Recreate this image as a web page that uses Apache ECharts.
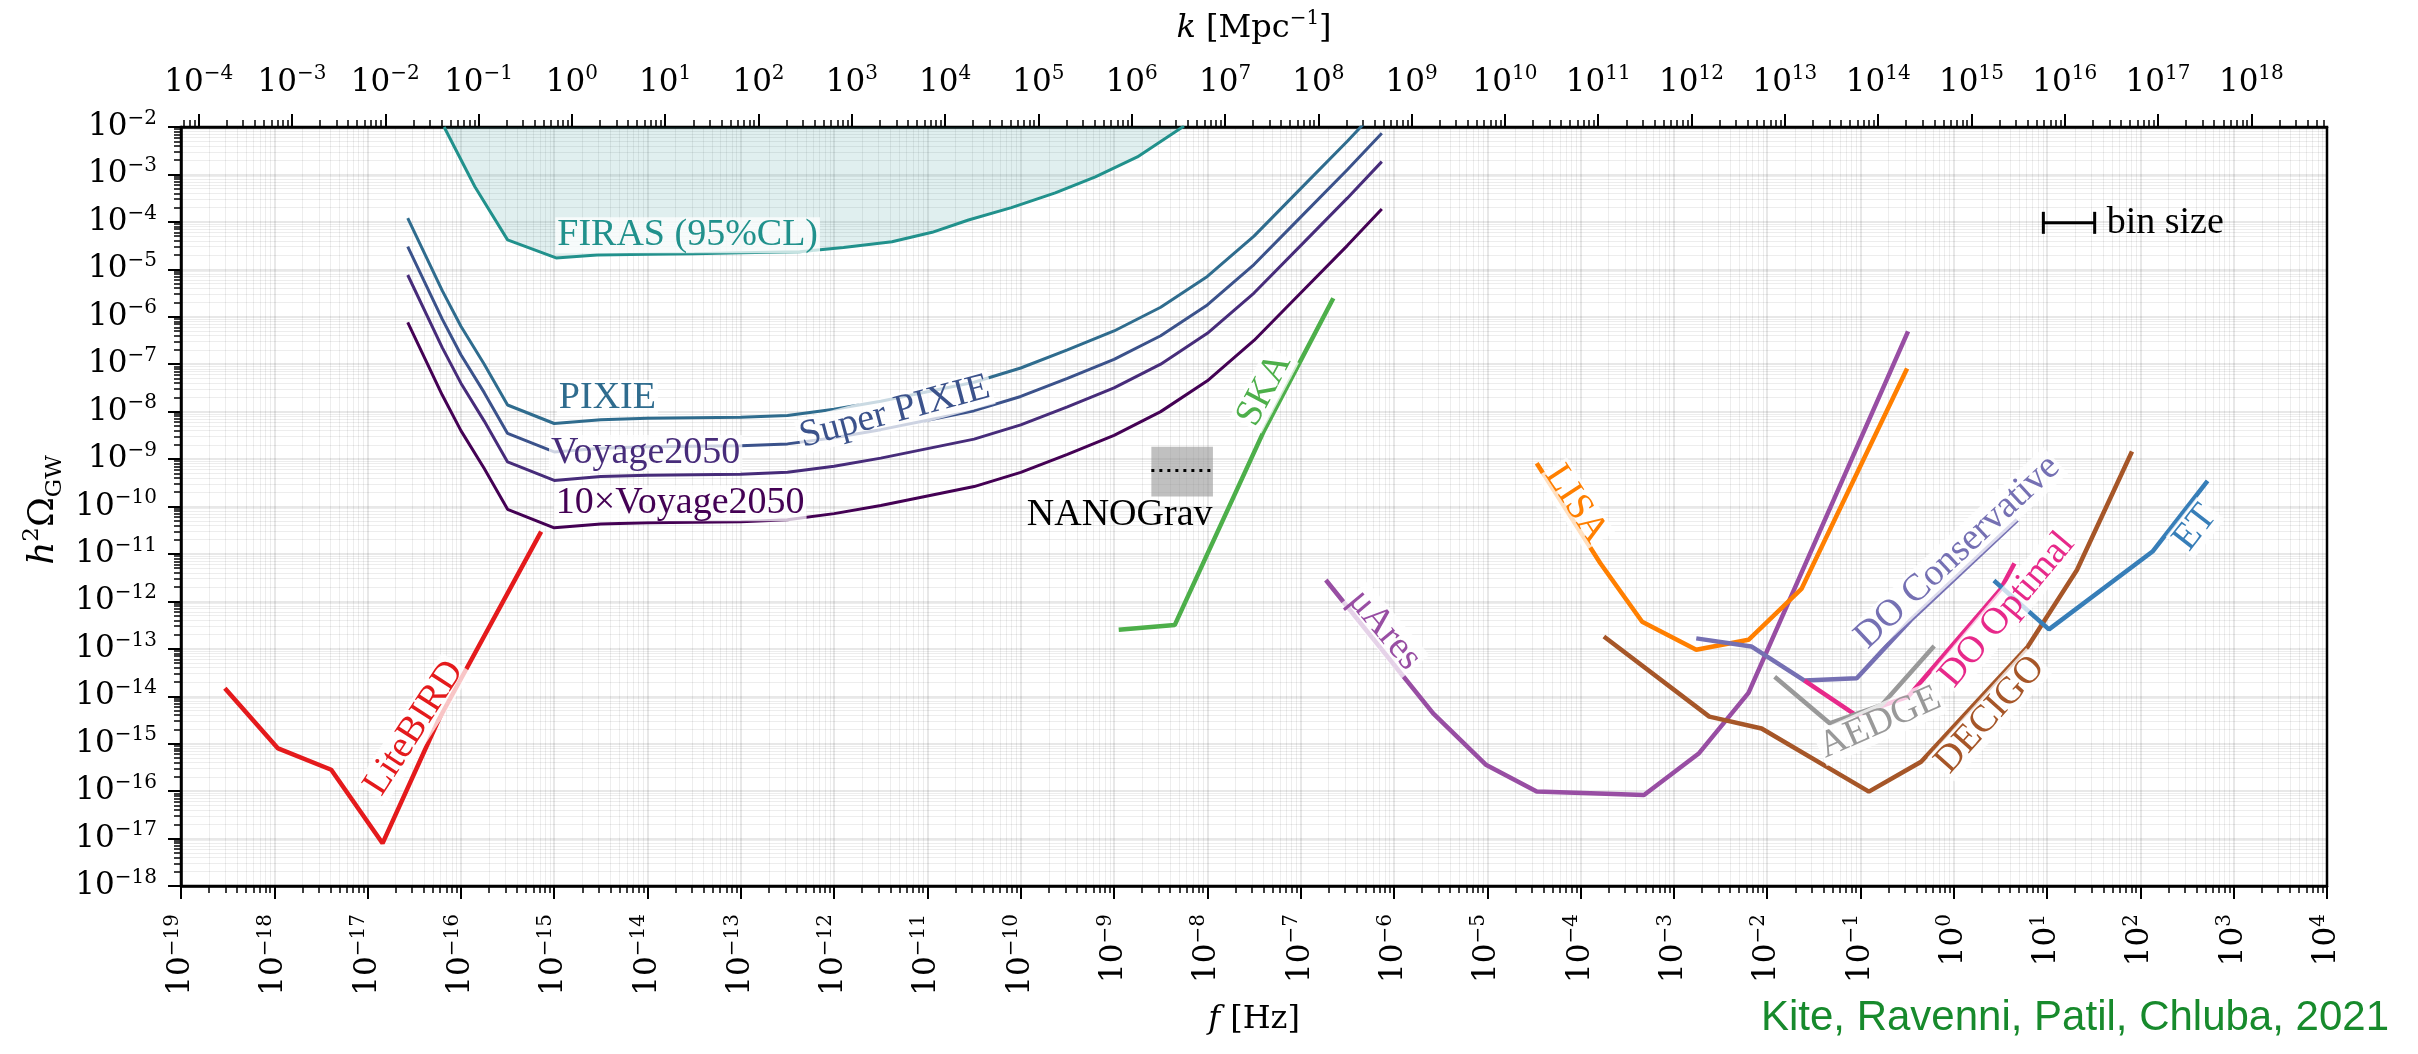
<!DOCTYPE html>
<html>
<head>
<meta charset="utf-8">
<script src="https://cdn.jsdelivr.net/npm/echarts@6/dist/echarts.min.js"></script>
<style>
html,body{margin:0;padding:0;background:#fff;}
#chart{width:2418px;height:1054px;}
</style>
</head>
<body>
<div id="chart"></div>
<script>
// ---------- DATA (log10 f [Hz], log10 h^2 Omega_GW) ----------
const firasLogF     = [-16.18, -15.85, -15.5, -14.98, -14.54, -14.0, -13.5, -13.0, -12.37, -11.9, -11.38, -10.95, -10.56, -10.1, -9.63, -9.2, -8.75, -8.31, -8.25];
const firasLogOmega = [-2.0, -3.26, -4.38, -4.76, -4.70, -4.68, -4.67, -4.65, -4.63, -4.54, -4.42, -4.22, -3.96, -3.7, -3.39, -3.05, -2.63, -2.06, -1.98];

const pixieLogF = [-16.57, -16.2, -16.0, -15.75, -15.5, -15.0, -14.5, -14.0, -13.0, -12.5, -12.0, -11.5, -11.0, -10.5, -10.0, -9.5, -9.0, -8.5, -8.0, -7.5, -7.0, -6.5, -6.13];
const pixieLogOmega      = [-3.92, -5.45, -6.2, -7.0, -7.86, -8.25, -8.17, -8.14, -8.12, -8.08, -7.95, -7.78, -7.58, -7.38, -7.08, -6.7, -6.3, -5.8, -5.15, -4.3, -3.3, -2.3, -1.53];
const superPixieLogOmega = [-4.52, -6.05, -6.8, -7.6, -8.46, -8.85, -8.77, -8.74, -8.72, -8.68, -8.55, -8.38, -8.18, -7.98, -7.68, -7.3, -6.9, -6.4, -5.75, -4.9, -3.9, -2.9, -2.13];
const voyageLogOmega     = [-5.12, -6.65, -7.4, -8.2, -9.06, -9.45, -9.37, -9.34, -9.32, -9.28, -9.15, -8.98, -8.78, -8.58, -8.28, -7.9, -7.5, -7.0, -6.35, -5.5, -4.5, -3.5, -2.73];
const voyage10LogOmega   = [-6.12, -7.65, -8.4, -9.2, -10.06, -10.45, -10.37, -10.34, -10.32, -10.28, -10.15, -9.98, -9.78, -9.58, -9.28, -8.9, -8.5, -8.0, -7.35, -6.5, -5.5, -4.5, -3.73];

const litebirdLogF     = [-18.53, -17.96, -17.39, -16.84, -16.24, -15.14];
const litebirdLogOmega = [-13.83, -15.10, -15.55, -17.10, -14.5, -10.53];

const skaLogF     = [-8.95, -8.35, -7.39, -6.65];
const skaLogOmega = [-12.6, -12.5, -8.39, -5.61];

const nanogravLogF      = [-8.60, -7.94];
const nanogravLogOmega  = [-9.79, -8.74];
const nanogravCentral   = -9.24;

const muAresLogF     = [-6.73, -5.58, -5.01, -4.47, -3.32, -2.73, -2.2, -0.49];
const muAresLogOmega = [-11.55, -14.36, -15.45, -16.01, -16.08, -15.2, -13.93, -6.31];

const lisaLogF     = [-4.47, -3.79, -3.34, -2.76, -2.20, -1.63, -0.50];
const lisaLogOmega = [-9.09, -11.19, -12.43, -13.02, -12.81, -11.73, -7.09];

const doConsLogF     = [-2.76, -2.17, -1.6, -1.04, -0.46, 0.68];
const doConsLogOmega = [-12.78, -12.95, -13.67, -13.62, -12.39, -10.28];

const doOptLogF     = [-1.6, -1.05, -0.49, 0.50, 0.65];
const doOptLogOmega = [-13.67, -14.40, -14.01, -11.75, -11.2];

const aedgeLogF     = [-1.92, -1.33, -0.77, -0.21];
const aedgeLogOmega = [-13.59, -14.57, -14.18, -12.94];

const decigoLogF     = [-3.75, -2.62, -2.06, -0.91, -0.35, 0.79, 1.32, 1.91];
const decigoLogOmega = [-12.74, -14.43, -14.68, -16.01, -15.38, -12.96, -11.34, -8.84];

const etLogF     = [0.43, 1.02, 2.13, 2.72];
const etLogOmega = [-11.56, -12.59, -10.95, -9.46];

const binSizeLogF  = [0.96, 1.51];
const binSizeLogOmega = -4.02;

// tick label exponents
const fTickExp     = [-19,-18,-17,-16,-15,-14,-13,-12,-11,-10,-9,-8,-7,-6,-5,-4,-3,-2,-1,0,1,2,3,4];
const kTickExp     = [-4,-3,-2,-1,0,1,2,3,4,5,6,7,8,9,10,11,12,13,14,15,16,17,18];
const omegaTickExp = [-18,-17,-16,-15,-14,-13,-12,-11,-10,-9,-8,-7,-6,-5,-4,-3,-2];

// ---------- AXIS RANGES ----------
const F_MIN = 1e-19, F_MAX = 1e4, OM_MIN = 1e-18, OM_MAX = 1e-2;
const HZ_PER_INV_MPC = 1.547e-15;   // f = c k / (2 pi)
const K_MIN = F_MIN / HZ_PER_INV_MPC, K_MAX = F_MAX / HZ_PER_INV_MPC;

// ---------- STYLE ----------
const SERIF = 'DejaVu Serif';
const LSERIF = 'Liberation Serif';
const C = {
  firas:'#21918c', pixie:'#2f6c8e', superPixie:'#3b528b', voyage:'#472c7a', voyage10:'#440154',
  litebird:'#e41a1c', ska:'#4daf4a', mu:'#984ea3', lisa:'#ff7f00', doc:'#7570b3', doo:'#e7298a',
  aedge:'#999999', decigo:'#a65628', et:'#377eb8'
};
const MAJOR_GRID = 'rgba(0,0,0,0.12)';
const MINOR_GRID = 'rgba(0,0,0,0.07)';
const DET_W = 4.5;

const p10 = e => Math.pow(10, e);
const pts = (lf, lo) => lf.map((x, i) => [p10(x), p10(lo[i])]);
const decades = exps => exps.map(p10);
function minorValues(eLo, eHi, vMin, vMax) {
  const out = [];
  for (let e = eLo; e <= eHi; e++) for (let m = 2; m <= 9; m++) {
    const v = m * Math.pow(10, e);
    if (v > vMin && v < vMax) out.push(v);
  }
  return out;
}
function supLabel(v) {
  const e = Math.round(Math.log10(v));
  return '{b|10}{s|' + (e < 0 ? '\u2212' + (-e) : String(e)) + '}';
}
const tickRich = {
  b: {fontFamily: SERIF, fontSize: 31, lineHeight: 37, color: '#000'},
  s: {fontFamily: SERIF, fontSize: 20, lineHeight: 21, verticalAlign: 'top', color: '#000'}
};

function majorAxisCommon(values, labelOpts) {
  return {
    axisLine: {show: true, onZero: false, lineStyle: {color: '#000', width: 2.5}},
    axisTick: {show: true, inside: false, length: 13, customValues: values, lineStyle: {color: '#000', width: 2}},
    axisLabel: Object.assign({show: true, customValues: values, formatter: supLabel, rich: tickRich}, labelOpts),
    minorTick: {show: false}, minorSplitLine: {show: false}
  };
}
function minorAxisCommon(values, showGrid) {
  return {
    axisLine: {show: false},
    axisTick: {show: true, inside: false, length: 7, customValues: values, lineStyle: {color: '#000', width: 1.5}},
    axisLabel: {show: false},
    splitLine: {show: showGrid, lineStyle: {color: MINOR_GRID, width: 1}},
    minorTick: {show: false}, minorSplitLine: {show: false}
  };
}

const curveLabels = [
  {text:'FIRAS (95%CL)', at:[-13.57,-4.28], rot:0,   color:C.firas},
  {text:'PIXIE',         at:[-14.43,-7.71], rot:0,   color:C.pixie},
  {text:'Super PIXIE',   at:[-11.35,-8.01], rot:15,  color:C.superPixie},
  {text:'Voyage2050',    at:[-14.02,-8.87], rot:0,   color:C.voyage},
  {text:'10\u00d7Voyage2050', at:[-13.65,-9.93], rot:0, color:C.voyage10},
  {text:'LiteBIRD',      at:[-16.50,-14.67], rot:57, color:C.litebird},
  {text:'SKA',           at:[-7.39,-7.54],  rot:62,  color:C.ska},
  {text:'NANOGrav',      at:[-8.94,-10.18], rot:0,   color:'#000', plain:true},
  {text:'\u03bcAres',    at:[-6.10,-12.60], rot:-50, color:C.mu},
  {text:'LISA',          at:[-4.05,-9.95],  rot:-57, color:C.lisa},
  {text:'DO Conservative', at:[0.04,-10.96], rot:43, color:C.doc},
  {text:'DO Optimal',    at:[0.57,-12.18],  rot:50,  color:C.doo},
  {text:'AEDGE',         at:[-0.79,-14.56], rot:24,  color:C.aedge},
  {text:'DECIGO',        at:[0.39,-14.39],  rot:48,  color:C.decigo},
  {text:'ET',            at:[2.59,-10.45],  rot:52,  color:C.et}
];

function lineSeries(name, lf, lo, color, width, extra) {
  return Object.assign({
    name, type: 'line', xAxisIndex: 0, yAxisIndex: 0, data: pts(lf, lo),
    symbol: 'none', smooth: false, clip: true, silent: true, z: 3,
    lineStyle: {color, width}, itemStyle: {color}
  }, extra || {});
}

const series = [
  lineSeries('FIRAS', firasLogF, firasLogOmega, C.firas, 3,
    {areaStyle: {origin: 'end', color: 'rgba(33,145,140,0.2)'}}),
  lineSeries('PIXIE', pixieLogF, pixieLogOmega, C.pixie, 3),
  lineSeries('Super PIXIE', pixieLogF, superPixieLogOmega, C.superPixie, 3),
  lineSeries('Voyage2050', pixieLogF, voyageLogOmega, C.voyage, 3),
  lineSeries('10xVoyage2050', pixieLogF, voyage10LogOmega, C.voyage10, 3),
  lineSeries('LiteBIRD', litebirdLogF, litebirdLogOmega, C.litebird, DET_W),
  lineSeries('SKA', skaLogF, skaLogOmega, C.ska, DET_W),
  {
    name: 'NANOGrav', type: 'line', xAxisIndex: 0, yAxisIndex: 0, silent: true, z: 3,
    data: pts(nanogravLogF, [nanogravCentral, nanogravCentral]),
    symbol: 'none', lineStyle: {color: '#000', width: 3, type: [3, 5]},
    markArea: {silent: true, itemStyle: {color: 'rgba(150,150,150,0.6)'},
      data: [[{coord: [p10(nanogravLogF[0]), p10(nanogravLogOmega[0])]},
              {coord: [p10(nanogravLogF[1]), p10(nanogravLogOmega[1])]}]]}
  },
  lineSeries('muAres', muAresLogF, muAresLogOmega, C.mu, DET_W),
  lineSeries('LISA', lisaLogF, lisaLogOmega, C.lisa, DET_W),
  lineSeries('DO Conservative', doConsLogF, doConsLogOmega, C.doc, DET_W),
  lineSeries('DO Optimal', doOptLogF, doOptLogOmega, C.doo, DET_W),
  lineSeries('AEDGE', aedgeLogF, aedgeLogOmega, C.aedge, DET_W),
  lineSeries('DECIGO', decigoLogF, decigoLogOmega, C.decigo, DET_W),
  lineSeries('ET', etLogF, etLogOmega, C.et, DET_W),
  {
    name: 'bin size', type: 'line', xAxisIndex: 0, yAxisIndex: 0, silent: true, z: 4,
    data: pts(binSizeLogF, [binSizeLogOmega, binSizeLogOmega]),
    symbol: 'rect', symbolSize: [3, 22], showSymbol: true,
    lineStyle: {color: '#000', width: 3}, itemStyle: {color: '#000'},
    label: {show: false},
    endLabel: {show: true, formatter: 'bin size', distance: 12, color: '#000', fontFamily: LSERIF, fontSize: 38}
  }
];

curveLabels.forEach(l => {
  series.push({
    type: 'scatter', xAxisIndex: 0, yAxisIndex: 0, silent: true, z: 8,
    symbolSize: 0, itemStyle: {opacity: 1},
    data: [[p10(l.at[0]), p10(l.at[1])]],
    label: {
      show: true, position: 'inside', formatter: l.text, rotate: l.rot, opacity: 1,
      color: l.color, fontFamily: LSERIF, fontSize: 38,
      backgroundColor: l.plain ? 'transparent' : 'rgba(255,255,255,0.75)',
      padding: [0, 2, -2, 2]
    }
  });
});

const fMajor = decades(fTickExp);
const kMajor = decades(kTickExp);
const omMajor = decades(omegaTickExp);
const fMinor = minorValues(-19, 3, F_MIN, F_MAX);
const kMinor = minorValues(-5, 18, K_MIN, K_MAX);
const omMinor = minorValues(-18, -3, OM_MIN, OM_MAX);

const gridRect = {left: 181, right: 91, top: 127, bottom: 168};

const option = {
  animation: false,
  backgroundColor: '#fff',
  grid: [
    Object.assign({show: true, borderColor: '#000', borderWidth: 2.5, backgroundColor: 'transparent',
      containLabel: false, outerBoundsMode: 'none'}, gridRect),
    Object.assign({show: false, containLabel: false, outerBoundsMode: 'none'}, gridRect)
  ],
  xAxis: [
    Object.assign({
      type: 'log', logBase: 10, gridIndex: 0, position: 'bottom', min: F_MIN, max: F_MAX,
      splitLine: {show: true, lineStyle: {color: MAJOR_GRID, width: 1.5}},
      name: '{i|f}{n| [Hz]}', nameLocation: 'middle', nameGap: 116,
      nameTextStyle: {rich: {
        i: {fontFamily: SERIF, fontStyle: 'italic', fontSize: 32, color: '#000'},
        n: {fontFamily: SERIF, fontSize: 32, color: '#000'}
      }}
    }, majorAxisCommon(fMajor, {rotate: 90, margin: 28})),
    Object.assign({
      type: 'log', logBase: 10, gridIndex: 0, position: 'top', min: K_MIN, max: K_MAX,
      splitLine: {show: false},
      name: '{i|k}{n| [Mpc}{s|\u22121}{n|]}', nameLocation: 'middle', nameGap: 78,
      nameTextStyle: {rich: {
        i: {fontFamily: SERIF, fontStyle: 'italic', fontSize: 32, lineHeight: 40, color: '#000'},
        n: {fontFamily: SERIF, fontSize: 32, lineHeight: 40, color: '#000'},
        s: {fontFamily: SERIF, fontSize: 20, lineHeight: 22, verticalAlign: 'top', color: '#000'}
      }}
    }, majorAxisCommon(kMajor, {margin: 26})),
    Object.assign({type: 'log', logBase: 10, gridIndex: 1, position: 'bottom', min: F_MIN, max: F_MAX},
      minorAxisCommon(fMinor, true)),
    Object.assign({type: 'log', logBase: 10, gridIndex: 1, position: 'top', min: K_MIN, max: K_MAX},
      minorAxisCommon(kMinor, false))
  ],
  yAxis: [
    Object.assign({
      type: 'log', logBase: 10, gridIndex: 0, position: 'left', min: OM_MIN, max: OM_MAX,
      splitLine: {show: true, lineStyle: {color: MAJOR_GRID, width: 1.5}}
    }, majorAxisCommon(omMajor, {margin: 24})),
    Object.assign({type: 'log', logBase: 10, gridIndex: 1, position: 'left', min: OM_MIN, max: OM_MAX},
      minorAxisCommon(omMinor, true))
  ],
  graphic: [
    {
      type: 'text', x: 44, y: 510, rotation: Math.PI / 2, silent: true,
      style: {
        text: '{i|h}{s|2}{n|\u03a9}{b|GW}', align: 'center', verticalAlign: 'middle',
        rich: {
          i: {fontFamily: SERIF, fontStyle: 'italic', fontSize: 36, lineHeight: 46, fill: '#000'},
          n: {fontFamily: SERIF, fontSize: 36, lineHeight: 46, fill: '#000'},
          s: {fontFamily: SERIF, fontSize: 23, lineHeight: 25, verticalAlign: 'top', fill: '#000'},
          b: {fontFamily: SERIF, fontSize: 23, lineHeight: 32, verticalAlign: 'bottom', fill: '#000'}
        }
      }
    },
    {
      type: 'text', right: 29, top: 997, silent: true,
      style: {text: 'Kite, Ravenni, Patil, Chluba, 2021', fill: '#178a2c',
        font: '42px "Liberation Sans", Arial, sans-serif'}
    }
  ],
  series
};

const chart = echarts.init(document.getElementById('chart'), null, {renderer: 'canvas'});
chart.setOption(option);
</script>
</body>
</html>
